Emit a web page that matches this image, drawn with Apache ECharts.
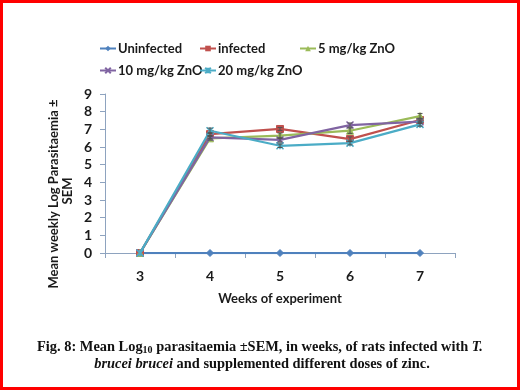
<!DOCTYPE html>
<html><head><meta charset="utf-8">
<script src="https://cdn.jsdelivr.net/npm/echarts@6/dist/echarts.min.js"></script>
<style>html,body{margin:0;padding:0;background:#fff}#c{width:520px;height:390px}</style>
</head><body><div id="c"></div>
<script>
var weeks = ['3', '4', '5', '6', '7'];
var uninfected = [0, 0, 0, 0, 0];
var infected = [0, 6.73, 7.02, 6.45, 7.53];
var zno5 = [0, 6.49, 6.64, 6.92, 7.75];
var zno10 = [0, 6.55, 6.40, 7.24, 7.43];
var zno20 = [0, 6.92, 6.07, 6.22, 7.28];
var semUninfected = [0, 0, 0, 0, 0];
var semInfected = [0, 0.08, 0.08, 0.12, 0.1];
var semZno5 = [0, 0.1, 0.15, 0.15, 0.15];
var semZno10 = [0, 0.08, 0.12, 0.12, 0.1];
var semZno20 = [0, 0.15, 0.1, 0.1, 0.1];
var yTicks = [0, 1, 2, 3, 4, 5, 6, 7, 8, 9];

var names = ['Uninfected', 'infected', '5 mg/kg ZnO', '10 mg/kg ZnO', '20 mg/kg ZnO'];
var colors = ['#4F81BD', '#C0504D', '#9BBB59', '#8064A2', '#4BACC6'];
var symbols = ['diamond', 'rect', 'triangle',
  'path://M0,0 L1,1 M1,0 L0,1',
  'path://M0,0 L1,1 M1,0 L0,1 M0.5,0 L0.5,1'];
var vals = [uninfected, infected, zno5, zno10, zno20];
var sems = [semUninfected, semInfected, semZno5, semZno10, semZno20];
var F = 'Lato, "Open Sans", sans-serif';
var SERIF = '"Liberation Serif", serif';

var series = [];
names.forEach(function (n, k) {
  var isPath = k >= 3;
  series.push({
    name: n, type: 'line', data: vals[k],
    symbol: symbols[k], symbolSize: k === 1 ? 7 : 7,
    showAllSymbol: true,
    lineStyle: { color: colors[k], width: 2.25 },
    itemStyle: isPath ? { color: 'none', borderColor: colors[k], borderWidth: 1.5 } : { color: colors[k], borderColor: colors[k] },
    color: colors[k],
    z: 2 + k
  });
  var ed = vals[k].map(function (v, i) { return [i, v, sems[k][i]]; }).filter(function (d) { return d[2] > 0; });
  series.push({
    type: 'custom', name: n + ' SEM', data: ed, z: 10,
    renderItem: function (params, api) {
      var x = api.value(0), y = api.value(1), e = api.value(2);
      var p1 = api.coord([x, y + e]), p2 = api.coord([x, y - e]);
      var s = { stroke: '#505050', lineWidth: 1 };
      return { type: 'group', children: [
        { type: 'line', shape: { x1: p1[0], y1: p1[1], x2: p2[0], y2: p2[1] }, style: s },
        { type: 'line', shape: { x1: p1[0] - 2.5, y1: p1[1], x2: p1[0] + 2.5, y2: p1[1] }, style: s },
        { type: 'line', shape: { x1: p2[0] - 2.5, y1: p2[1], x2: p2[0] + 2.5, y2: p2[1] }, style: s }
      ] };
    },
    encode: { x: 0, y: 1 }
  });
});

function legendAt(name, left, top) {
  return {
    data: [name], left: left, top: top, padding: 0, itemWidth: 16, itemHeight: 7, itemGap: 0,
    textStyle: { fontFamily: F, fontWeight: 'bold', fontSize: 13, color: '#1a1a1a', padding: [0, 0, 0, -3] }
  };
}

var chart = echarts.init(document.getElementById('c'));
chart.setOption({
  animation: false,
  backgroundColor: '#fff',
  color: colors,
  legend: [
    legendAt(names[0], 99, 42), legendAt(names[1], 199, 42), legendAt(names[2], 299, 42),
    legendAt(names[3], 99, 64), legendAt(names[4], 199, 64)
  ],
  grid: { left: 105, right: 65, top: 94, bottom: 137 },
  xAxis: {
    type: 'category', data: weeks, boundaryGap: true,
    axisLine: { lineStyle: { color: '#8EA3BF', width: 1 } },
    axisTick: { show: true, length: 5, lineStyle: { color: '#8EA3BF' } },
    axisLabel: { margin: 16, fontFamily: F, fontWeight: 'bold', fontSize: 14, color: '#1a1a1a' }
  },
  yAxis: {
    type: 'value', min: yTicks[0], max: yTicks[yTicks.length - 1], interval: 1,
    splitLine: { show: false },
    axisLine: { show: true, lineStyle: { color: '#8EA3BF', width: 1 } },
    axisTick: { show: true, length: 5, lineStyle: { color: '#8EA3BF' } },
    axisLabel: { margin: 13, fontFamily: F, fontWeight: 'bold', fontSize: 14, color: '#1a1a1a' }
  },
  series: series,
  graphic: [
    { type: 'text', x: 54, y: 194, rotation: Math.PI / 2,
      style: { text: 'Mean weekly Log Parasitaemia \u00b1', font: 'bold 13px ' + F, fill: '#1a1a1a', align: 'center', verticalAlign: 'middle' } },
    { type: 'text', x: 68, y: 191, rotation: Math.PI / 2,
      style: { text: 'SEM', font: 'bold 13px ' + F, fill: '#1a1a1a', align: 'center', verticalAlign: 'middle' } },
    { type: 'text', x: 280, y: 299,
      style: { text: 'Weeks of experiment', font: 'bold 13px ' + F, fill: '#1a1a1a', align: 'center', verticalAlign: 'middle' } },
    { type: 'text', x: 260, y: 347,
      style: {
        text: 'Fig. 8: Mean Log{sub|10} parasitaemia \u00b1SEM, in weeks, of rats infected with {i|T.}',
        fontFamily: SERIF, fontWeight: 'bold', fontSize: 14.4, fill: '#111',
        align: 'center', verticalAlign: 'middle',
        rich: {
          sub: { fontFamily: SERIF, fontWeight: 'bold', fontSize: 10, fill: '#111', padding: [6, 0, 0, 0] },
          i: { fontFamily: SERIF, fontWeight: 'bold', fontStyle: 'italic', fontSize: 14.4, fill: '#111' }
        }
      } },
    { type: 'text', x: 262, y: 364,
      style: {
        text: '{i|brucei brucei} and supplemented different doses of zinc.',
        fontFamily: SERIF, fontWeight: 'bold', fontSize: 14.4, fill: '#111',
        align: 'center', verticalAlign: 'middle',
        rich: {
          i: { fontFamily: SERIF, fontWeight: 'bold', fontStyle: 'italic', fontSize: 14.4, fill: '#111' }
        }
      } },
    { type: 'rect', shape: { x: 1.5, y: 1.5, width: 517, height: 387 }, style: { fill: 'none', stroke: '#FF0000', lineWidth: 3 }, z: 100 }
  ]
});
</script></body></html>
